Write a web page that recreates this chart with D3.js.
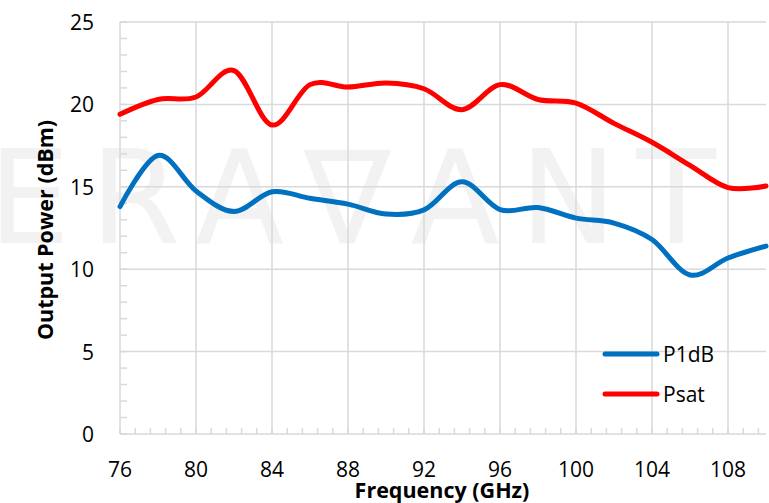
<!DOCTYPE html>
<html lang="en">
<head>
  <meta charset="UTF-8">
  <title>Output Power vs Frequency</title>
  <script src="https://d3js.org/d3.v7.min.js"></script>
  <style>
    body {
      margin: 0;
      background-color: white;
      font-family: "Open Sans", sans-serif;
    }
    .grid line {
      stroke: #d9d9d9;
      stroke-width: 1.5;
    }
    .tick-label {
      font-size: 21px;
      fill: black;
    }
    .axis-title {
      font-size: 21.5px;
      font-weight: bold;
      fill: black;
    }
  </style>
</head>
<body>
  <svg width="769" height="503"></svg>
  <script>
    const freqs = [76, 78, 80, 82, 84, 86, 88, 90, 92, 94, 96, 98, 100, 102, 104, 106, 108, 110];
    const p1db = [13.8, 16.9, 14.75, 13.5, 14.7, 14.3, 13.95, 13.35, 13.6, 15.3, 13.62, 13.74, 13.1, 12.8, 11.8, 9.65, 10.68, 11.4];
    const psat = [19.4, 20.3, 20.45, 22.05, 18.75, 21.2, 21.05, 21.3, 20.95, 19.68, 21.2, 20.3, 20.08, 18.85, 17.7, 16.3, 14.95, 15.05];
    const xTicks = [76, 80, 84, 88, 92, 96, 100, 104, 108];
    const yTicks = [0, 5, 10, 15, 20, 25];
    const seriesNames = ["P1dB", "Psat"];
    const seriesColors = ["#0070c0", "#ff0000"];

    const svg = d3.select("svg");
    const x = d3.scaleLinear().domain([76, 110]).range([120, 766]);
    const y = d3.scaleLinear().domain([0, 25]).range([434, 22]);

    // watermark
    svg.append("text")
      .attr("x", -12)
      .attr("y", 243)
      .attr("textLength", 728)
      .attr("lengthAdjust", "spacing")
      .style("font-family", "DejaVu Sans")
      .style("font-size", "130px")
      .style("fill", "#f2f2f2")
      .text("ERA\u2207ANT");

    const grid = svg.append("g").attr("class", "grid");
    // vertical grid
    grid.selectAll(".vx").data(xTicks.slice(1)).enter().append("line")
      .attr("x1", d => x(d)).attr("x2", d => x(d))
      .attr("y1", y(25)).attr("y2", y(0));
    // horizontal grid
    grid.selectAll(".hy").data(yTicks.slice(1)).enter().append("line")
      .attr("x1", x(76)).attr("x2", x(110))
      .attr("y1", d => y(d)).attr("y2", d => y(d));
    // axis lines
    grid.append("line").attr("x1", x(76)).attr("x2", x(76)).attr("y1", y(25)).attr("y2", y(0));
    grid.append("line").attr("x1", x(76)).attr("x2", x(110)).attr("y1", y(0)).attr("y2", y(0));
    // minor ticks
    const xMinor = d3.range(0, 43).map(i => 76 + i * 0.8).filter(d => d <= 110);
    grid.selectAll(".mx").data(xMinor).enter().append("line")
      .attr("x1", d => x(d)).attr("x2", d => x(d))
      .attr("y1", y(0)).attr("y2", y(0) - 6);
    const yMinor = d3.range(0, 26);
    grid.selectAll(".my").data(yMinor).enter().append("line")
      .attr("x1", x(76)).attr("x2", x(76) + 7)
      .attr("y1", d => y(d)).attr("y2", d => y(d));

    // tick labels
    svg.selectAll(".xl").data(xTicks).enter().append("text")
      .attr("class", "tick-label")
      .attr("x", d => x(d))
      .attr("y", 477)
      .attr("text-anchor", "middle")
      .text(d => d);
    svg.selectAll(".yl").data(yTicks).enter().append("text")
      .attr("class", "tick-label")
      .attr("x", 94)
      .attr("y", d => y(d) + 8)
      .attr("text-anchor", "end")
      .text(d => d);

    // axis titles
    svg.append("text")
      .attr("class", "axis-title")
      .attr("x", 442)
      .attr("y", 498)
      .attr("text-anchor", "middle")
      .text("Frequency (GHz)");
    svg.append("text")
      .attr("class", "axis-title")
      .attr("transform", "translate(53,230) rotate(-90)")
      .attr("text-anchor", "middle")
      .text("Output Power (dBm)");

    // lines
    const line = d3.line()
      .x((d, i) => x(freqs[i]))
      .y(d => y(d))
      .curve(d3.curveCatmullRom.alpha(0));

    [p1db, psat].forEach((vals, i) => {
      svg.append("path")
        .attr("d", line(vals))
        .attr("fill", "none")
        .attr("stroke", seriesColors[i])
        .attr("stroke-width", 5)
        .attr("stroke-linecap", "round")
        .attr("stroke-linejoin", "round");
    });

    // legend
    const legend = svg.append("g");
    seriesNames.forEach((name, i) => {
      const ly = 354 + i * 40;
      legend.append("line")
        .attr("x1", 605).attr("x2", 657)
        .attr("y1", ly).attr("y2", ly)
        .attr("stroke", seriesColors[i])
        .attr("stroke-width", 5)
        .attr("stroke-linecap", "round");
      legend.append("text")
        .attr("class", "tick-label")
        .attr("x", 663)
        .attr("y", ly + 8)
        .text(name);
    });
  </script>
</body>
</html>
